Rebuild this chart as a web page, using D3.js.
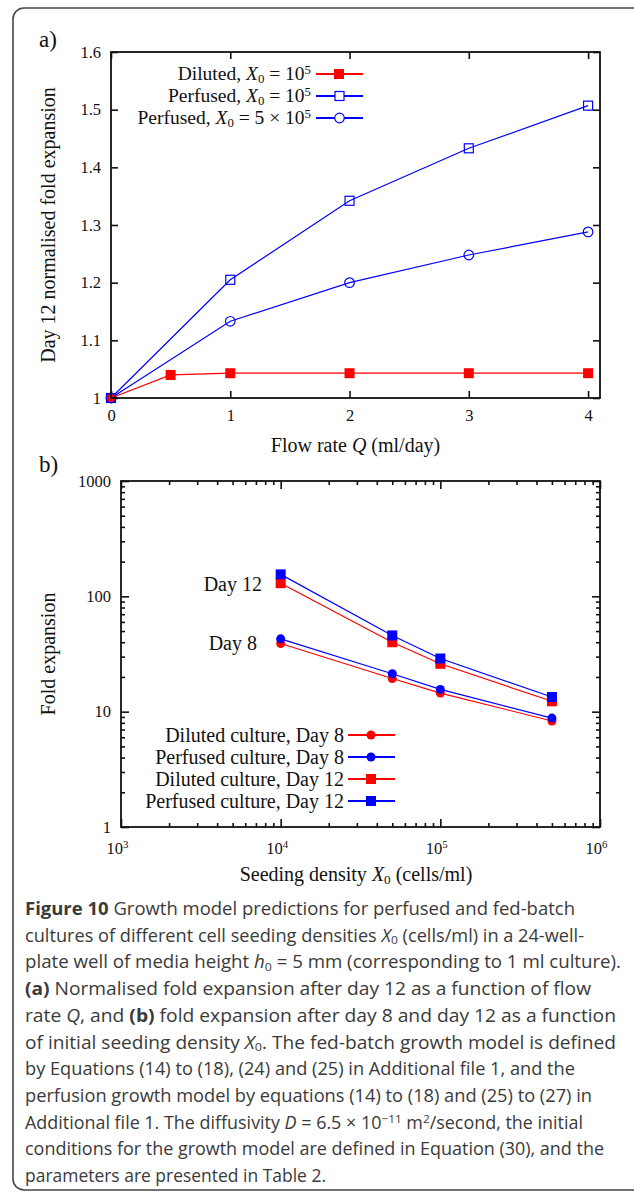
<!DOCTYPE html>
<html>
<head>
<meta charset="utf-8">
<script src="https://cdn.jsdelivr.net/npm/d3@7"></script>
<style>
  body { margin: 0; background: #fff; }
  text { font-family: "Liberation Serif", "Times New Roman", serif; fill: #111; }
  .caption text { font-family: "Open Sans", sans-serif; fill: #3a3a3a; }
</style>
</head>
<body>
<div id="figure"></div>
<script>
// panel a) data
var flowDiluted = [0, 0.5, 1, 2, 3, 4];
var dilutedA = [1, 1.040, 1.043, 1.043, 1.043, 1.043];
var flowPerfused = [0, 1, 2, 3, 4];
var perfused1e5 = [1, 1.205, 1.342, 1.433, 1.507];
var perfused5e5 = [1, 1.133, 1.2, 1.248, 1.288];
var aTicksX = [0, 1, 2, 3, 4];
var aTicksY = [1, 1.1, 1.2, 1.3, 1.4, 1.5, 1.6];
var aTickLabelsY = ["1", "1.1", "1.2", "1.3", "1.4", "1.5", "1.6"];

// panel b) data
var seedDensity = [1e4, 5e4, 1e5, 5e5];
var dilutedDay8 = [39, 19.4, 14.5, 8.3];
var perfusedDay8 = [42.8, 21.3, 15.6, 8.8];
var dilutedDay12 = [130, 40, 26, 12.3];
var perfusedDay12 = [155, 45.8, 28.9, 13.4];
var bTicksX = [1e3, 1e4, 1e5, 1e6];
var bTicksY = [1, 10, 100, 1000];

var svgWidth = 634;
var svgHeight = 1193;
var labelSize = 20;
var tickSize = 16.5;

var svg = d3.select("#figure")
    .append("svg")
    .attr("width", svgWidth)
    .attr("height", svgHeight);

// rounded frame round the whole figure
svg.append("rect")
    .attr("x", 13).attr("y", 8)
    .attr("width", 660).attr("height", 1182)
    .attr("rx", 11)
    .attr("fill", "none")
    .attr("stroke", "#444")
    .attr("stroke-width", 1.6);

// writes text made of plain / italic / bold / sub / sup pieces
function rich(sel, parts, size) {
    var shift = 0;
    parts.forEach(function(p) {
        var kind = p[1] || "";
        var t = sel.append("tspan").text(p[0]);
        var want = 0;
        if (kind == "sub") want = size * 0.15;
        if (kind == "sup") want = -size * 0.32;
        if (want != shift) t.attr("dy", want - shift);
        shift = want;
        if (kind == "sub" || kind == "sup") t.style("font-size", (size * 0.66) + "px");
        if (kind == "i") t.style("font-style", "italic");
        if (kind == "b") t.style("font-weight", "bold");
    });
    return sel;
}

// ---------- panel a ----------
var a = { left: 111, top: 52, right: 600, bottom: 398 };

var xA = d3.scaleLinear().domain([0, 4.1]).range([a.left, a.right]);
var yA = d3.scaleLinear().domain([1, 1.6]).range([a.bottom, a.top]);

var gA = svg.append("g");

gA.append("g")
    .attr("transform", `translate(0, ${a.bottom})`)
    .call(d3.axisBottom(xA).tickValues(aTicksX).tickSize(-7).tickSizeOuter(0).tickPadding(11).tickFormat(d3.format("d")));
gA.append("g")
    .attr("transform", `translate(0, ${a.top})`)
    .call(d3.axisTop(xA).tickValues(aTicksX).tickSize(-7).tickSizeOuter(0).tickFormat(""));
gA.append("g")
    .attr("transform", `translate(${a.left}, 0)`)
    .call(d3.axisLeft(yA).tickValues(aTicksY).tickSize(-7).tickSizeOuter(0).tickPadding(10)
        .tickFormat((d, i) => aTickLabelsY[i]));
gA.append("g")
    .attr("transform", `translate(${a.right}, 0)`)
    .call(d3.axisRight(yA).tickValues(aTicksY).tickSize(-7).tickSizeOuter(0).tickFormat(""));

var lineA = d3.line().x(d => xA(d[0])).y(d => yA(d[1]));

var dilutedPts = flowDiluted.map((q, i) => [q, dilutedA[i]]);
var perf1Pts = flowPerfused.map((q, i) => [q, perfused1e5[i]]);
var perf5Pts = flowPerfused.map((q, i) => [q, perfused5e5[i]]);

gA.append("path").datum(dilutedPts).attr("d", lineA)
    .attr("fill", "none").attr("stroke", "#ff0000").attr("stroke-width", 1.2);
gA.append("path").datum(perf1Pts).attr("d", lineA)
    .attr("fill", "none").attr("stroke", "#0000ff").attr("stroke-width", 1.2);
gA.append("path").datum(perf5Pts).attr("d", lineA)
    .attr("fill", "none").attr("stroke", "#0000ff").attr("stroke-width", 1.2);

gA.selectAll(".dil").data(dilutedPts).enter().append("rect")
    .attr("x", d => xA(d[0]) - 5).attr("y", d => yA(d[1]) - 5)
    .attr("width", 10).attr("height", 10).attr("fill", "#ff0000");
gA.selectAll(".p1").data(perf1Pts).enter().append("rect")
    .attr("x", d => xA(d[0]) - 4.5).attr("y", d => yA(d[1]) - 4.5)
    .attr("width", 9).attr("height", 9)
    .attr("fill", "none").attr("stroke", "#0000ff").attr("stroke-width", 1.2);
gA.selectAll(".p5").data(perf5Pts).enter().append("circle")
    .attr("cx", d => xA(d[0])).attr("cy", d => yA(d[1])).attr("r", 4.8)
    .attr("fill", "none").attr("stroke", "#0000ff").attr("stroke-width", 1.2);

gA.append("rect")
    .attr("x", a.left).attr("y", a.top)
    .attr("width", a.right - a.left).attr("height", a.bottom - a.top)
    .attr("fill", "none").attr("stroke", "#111").attr("stroke-width", 1.8);

// legend a
var legA = [
    { parts: [["Diluted, "], ["X", "i"], ["0", "sub"], [" = 10"], ["5", "sup"]], color: "#ff0000", mark: "fsq" },
    { parts: [["Perfused, "], ["X", "i"], ["0", "sub"], [" = 10"], ["5", "sup"]], color: "#0000ff", mark: "osq" },
    { parts: [["Perfused, "], ["X", "i"], ["0", "sub"], [" = 5 × 10"], ["5", "sup"]], color: "#0000ff", mark: "oci" }
];
legA.forEach(function(l, i) {
    var y = 74 + i * 22;
    rich(gA.append("text").attr("x", 311).attr("y", y + 6)
        .attr("text-anchor", "end").style("font-size", "19.5px"), l.parts, 19.5);
    gA.append("line").attr("x1", 316).attr("x2", 363).attr("y1", y).attr("y2", y)
        .attr("stroke", l.color).attr("stroke-width", 2);
    if (l.mark == "fsq") gA.append("rect").attr("x", 334).attr("y", y - 5).attr("width", 10).attr("height", 10).attr("fill", l.color);
    if (l.mark == "osq") gA.append("rect").attr("x", 335).attr("y", y - 4.5).attr("width", 9).attr("height", 9)
        .attr("fill", "#fff").attr("stroke", l.color).attr("stroke-width", 1.2);
    if (l.mark == "oci") gA.append("circle").attr("cx", 339.5).attr("cy", y).attr("r", 4.8)
        .attr("fill", "#fff").attr("stroke", l.color).attr("stroke-width", 1.2);
});

svg.append("text").attr("x", 39).attr("y", 47).style("font-size", "23px").text("a)");

rich(svg.append("text")
    .attr("transform", `translate(55, ${(a.top + a.bottom) / 2}) rotate(-90)`)
    .attr("text-anchor", "middle").style("font-size", labelSize + "px"),
    [["Day 12 normalised fold expansion"]], labelSize);

rich(svg.append("text")
    .attr("x", (a.left + a.right) / 2).attr("y", 452)
    .attr("text-anchor", "middle").style("font-size", labelSize + "px"),
    [["Flow rate "], ["Q", "i"], [" (ml/day)"]], labelSize);

// ---------- panel b ----------
var b = { left: 121, top: 481, right: 600, bottom: 827 };

var xB = d3.scaleLog().domain([1e3, 1e6]).range([b.left, b.right]);
var yB = d3.scaleLog().domain([1, 1000]).range([b.bottom, b.top]);

var minorX = xB.ticks().filter(d => bTicksX.indexOf(d) < 0);
var minorY = yB.ticks().filter(d => bTicksY.indexOf(d) < 0);

var gB = svg.append("g");

gB.append("g").attr("transform", `translate(0, ${b.bottom})`)
    .call(d3.axisBottom(xB).tickValues(minorX).tickSize(-4).tickSizeOuter(0).tickFormat(""));
gB.append("g").attr("transform", `translate(0, ${b.top})`)
    .call(d3.axisTop(xB).tickValues(minorX).tickSize(-4).tickSizeOuter(0).tickFormat(""));
gB.append("g").attr("transform", `translate(${b.left}, 0)`)
    .call(d3.axisLeft(yB).tickValues(minorY).tickSize(-4).tickSizeOuter(0).tickFormat(""));
gB.append("g").attr("transform", `translate(${b.right}, 0)`)
    .call(d3.axisRight(yB).tickValues(minorY).tickSize(-4).tickSizeOuter(0).tickFormat(""));

var xBaxis = gB.append("g").attr("transform", `translate(0, ${b.bottom})`)
    .call(d3.axisBottom(xB).tickValues(bTicksX).tickSize(-8).tickSizeOuter(0).tickPadding(15).tickFormat(""));
xBaxis.selectAll(".tick text").each(function(d) {
    d3.select(this).attr("dy", "0.71em").attr("x", -4);
    rich(d3.select(this), [["10"], [String(Math.round(Math.log10(d))), "sup"]], tickSize);
});
gB.append("g").attr("transform", `translate(0, ${b.top})`)
    .call(d3.axisTop(xB).tickValues(bTicksX).tickSize(-8).tickSizeOuter(0).tickFormat(""));
gB.append("g").attr("transform", `translate(${b.left}, 0)`)
    .call(d3.axisLeft(yB).tickValues(bTicksY).tickSize(-8).tickSizeOuter(0).tickPadding(10).tickFormat(d3.format("d")));
gB.append("g").attr("transform", `translate(${b.right}, 0)`)
    .call(d3.axisRight(yB).tickValues(bTicksY).tickSize(-8).tickSizeOuter(0).tickFormat(""));

svg.selectAll(".tick text").style("font-family", "'Liberation Serif', serif").style("font-size", tickSize + "px").attr("fill", "#111");
svg.selectAll(".domain").remove();
svg.selectAll(".tick line").attr("stroke", "#111").attr("stroke-width", 1.6);

var lineB = d3.line().x(d => xB(d[0])).y(d => yB(d[1]));

var seriesB = [
    { vals: dilutedDay8, color: "#ff0000", mark: "ci", name: "Diluted culture, Day 8" },
    { vals: perfusedDay8, color: "#0000ff", mark: "ci", name: "Perfused culture, Day 8" },
    { vals: dilutedDay12, color: "#ff0000", mark: "sq", name: "Diluted culture, Day 12" },
    { vals: perfusedDay12, color: "#0000ff", mark: "sq", name: "Perfused culture, Day 12" }
];

seriesB.forEach(function(s) {
    var pts = seedDensity.map((x, i) => [x, s.vals[i]]);
    gB.append("path").datum(pts).attr("d", lineB)
        .attr("fill", "none").attr("stroke", s.color).attr("stroke-width", 1.2);
    if (s.mark == "ci") {
        gB.selectAll(null).data(pts).enter().append("circle")
            .attr("cx", d => xB(d[0])).attr("cy", d => yB(d[1])).attr("r", 4.5)
            .attr("fill", s.color);
    } else {
        gB.selectAll(null).data(pts).enter().append("rect")
            .attr("x", d => xB(d[0]) - 5).attr("y", d => yB(d[1]) - 5)
            .attr("width", 10).attr("height", 10).attr("fill", s.color);
    }
});

gB.append("rect")
    .attr("x", b.left).attr("y", b.top)
    .attr("width", b.right - b.left).attr("height", b.bottom - b.top)
    .attr("fill", "none").attr("stroke", "#111").attr("stroke-width", 1.8);

gB.append("text").attr("x", 262).attr("y", 591).attr("text-anchor", "end")
    .style("font-size", labelSize + "px").text("Day 12");
gB.append("text").attr("x", 257).attr("y", 650).attr("text-anchor", "end")
    .style("font-size", labelSize + "px").text("Day 8");

// legend b
seriesB.forEach(function(s, i) {
    var y = 735 + i * 22;
    gB.append("text").attr("x", 344).attr("y", y + 7).attr("text-anchor", "end")
        .style("font-size", labelSize + "px").text(s.name);
    gB.append("line").attr("x1", 348).attr("x2", 395).attr("y1", y).attr("y2", y)
        .attr("stroke", s.color).attr("stroke-width", 2);
    if (s.mark == "ci") gB.append("circle").attr("cx", 371).attr("cy", y).attr("r", 4.5).attr("fill", s.color);
    else gB.append("rect").attr("x", 366).attr("y", y - 5).attr("width", 10).attr("height", 10).attr("fill", s.color);
});

svg.append("text").attr("x", 39).attr("y", 472).style("font-size", "23px").text("b)");

svg.append("text")
    .attr("transform", `translate(55, ${(b.top + b.bottom) / 2}) rotate(-90)`)
    .attr("text-anchor", "middle").style("font-size", labelSize + "px").text("Fold expansion");

rich(svg.append("text")
    .attr("x", 356).attr("y", 881)
    .attr("text-anchor", "middle").style("font-size", labelSize + "px"),
    [["Seeding density "], ["X", "i"], ["0", "sub"], [" (cells/ml)"]], labelSize);

// ---------- caption ----------
var captionLines = [
    [["Figure 10", "b"], [" Growth model predictions for perfused and fed-batch"]],
    [["cultures of different cell seeding densities "], ["X", "i"], ["0", "sub"], [" (cells/ml) in a 24-well-"]],
    [["plate well of media height "], ["h", "i"], ["0", "sub"], [" = 5 mm (corresponding to 1 ml culture)."]],
    [["(a)", "b"], [" Normalised fold expansion after day 12 as a function of flow"]],
    [["rate "], ["Q", "i"], [", and "], ["(b)", "b"], [" fold expansion after day 8 and day 12 as a function"]],
    [["of initial seeding density "], ["X", "i"], ["0", "sub"], [". The fed-batch growth model is defined"]],
    [["by Equations (14) to (18), (24) and (25) in Additional file 1, and the"]],
    [["perfusion growth model by equations (14) to (18) and (25) to (27) in"]],
    [["Additional file 1. The diffusivity "], ["D", "i"], [" = 6.5 × 10"], ["−11", "sup"], [" m"], ["2", "sup"], ["/second, the initial"]],
    [["conditions for the growth model are defined in Equation (30), and the"]],
    [["parameters are presented in Table 2."]]
];
var captionEnds = [575, 584, 621, 591, 616, 616, 575, 592, 583, 604, 326];

var cap = svg.append("g").attr("class", "caption");
captionLines.forEach(function(parts, i) {
    var t = cap.append("text")
        .attr("x", 25).attr("y", 915 + i * 26.7)
        .style("font-size", "17.5px")
        .attr("textLength", captionEnds[i] - 25)
        .attr("lengthAdjust", "spacingAndGlyphs");
    rich(t, parts, 17.5);
});
</script>
</body>
</html>
